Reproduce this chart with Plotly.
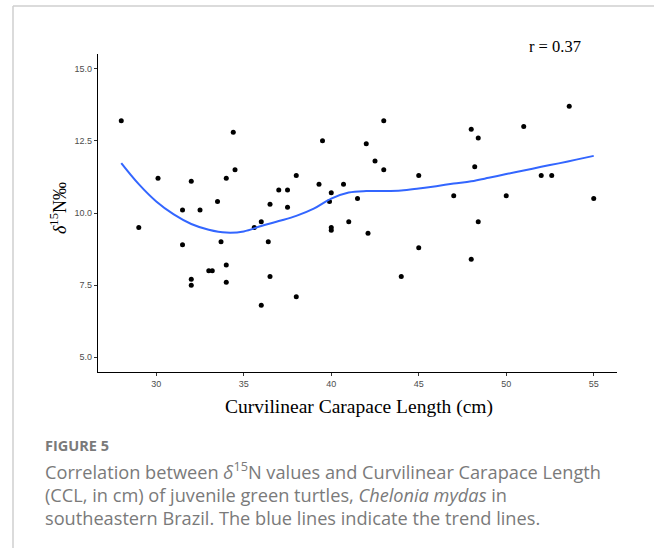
import plotly.graph_objects as go

# Data
ccl = [28, 29, 30.1, 31.5, 31.5, 32, 32, 32, 32.5, 33, 33.2, 33.5, 33.7, 34, 34, 34,
       34.4, 34.5, 35.6, 36, 36, 36.4, 36.5, 36.5, 37, 37.5, 37.5, 38, 38, 39.3, 39.5,
       39.9, 40, 40, 40, 40.7, 41, 41.5, 42, 42.1, 42.5, 43, 43, 44, 45, 45, 47, 48,
       48, 48.2, 48.4, 48.4, 50, 51, 52, 52.6, 53.6, 55]
d15n = [13.2, 9.5, 11.2, 10.1, 8.9, 11.1, 7.7, 7.5, 10.1, 8.0, 8.0, 10.4, 9.0, 11.2, 8.2, 7.6,
        12.8, 11.5, 9.5, 9.7, 6.8, 9.0, 10.3, 7.8, 10.8, 10.8, 10.2, 11.3, 7.1, 11.0, 12.5,
        10.4, 10.7, 9.5, 9.4, 11.0, 9.7, 10.5, 12.4, 9.3, 11.8, 13.2, 11.5, 7.8, 11.3, 8.8, 10.6, 12.9,
        8.4, 11.6, 12.6, 9.7, 10.6, 13.0, 11.3, 11.3, 13.7, 10.5]

trend_x = [28, 29, 30, 31, 32, 33, 34, 35, 36, 37, 38, 39, 40, 41, 42, 43, 44, 45, 46, 47,
           48, 49, 50, 51, 52, 53, 54, 55]
trend_y = [11.73, 11.0, 10.4, 9.95, 9.62, 9.42, 9.32, 9.36, 9.55, 9.72, 9.9, 10.15, 10.5, 10.71,
           10.76, 10.76, 10.78, 10.85, 10.93, 11.02, 11.1, 11.22, 11.35, 11.47, 11.6, 11.72, 11.85, 11.98]

x_ticks = [30, 35, 40, 45, 50, 55]
y_ticks = [5.0, 7.5, 10.0, 12.5, 15.0]
y_tick_labels = ["5.0", "7.5", "10.0", "12.5", "15.0"]

fig = go.Figure()
fig.add_trace(go.Scatter(x=ccl, y=d15n, mode="markers",
                         marker=dict(color="black", size=5), showlegend=False))
fig.add_trace(go.Scatter(x=trend_x, y=trend_y, mode="lines",
                         line=dict(color="#3366FF", width=2, shape="spline"), showlegend=False))

axis_common = dict(showgrid=False, zeroline=False, showline=True, linecolor="black",
                   linewidth=1.3, ticks="outside", ticklen=3, tickcolor="#333333",
                   tickfont=dict(family="Liberation Sans", size=9, color="#4d4d4d"))

fig.update_xaxes(range=[26.67, 56.33], tickvals=x_ticks, **axis_common)
fig.update_yaxes(range=[4.49, 15.51], tickvals=y_ticks, ticktext=y_tick_labels, **axis_common)

L, R, T, B = 98, 37, 54, 176
W, H = 654, 548
pw, ph = W - L - R, H - T - B

def px(x):
    return (x - L) / pw

def py(y):
    return (H - B - y) / ph

serif = "Liberation Serif"
cap_font = dict(family="Open Sans", size=18.2, color="#7a7a7a")

annotations = [
    dict(text="r = 0.37", x=px(555), y=py(46), font=dict(family=serif, size=16.5, color="black")),
    dict(text="<i>δ</i><sup>15</sup>N‰", x=px(58), y=py(208), textangle=-90,
         font=dict(family=serif, size=18, color="black")),
    dict(text="Curvilinear Carapace Length (cm)", x=px(359), y=py(407),
         font=dict(family=serif, size=19.5, color="black")),
    dict(text="<b>FIGURE 5</b>", x=px(43), y=py(445), xanchor="left",
         font=dict(family="Open Sans", size=14.5, color="#7a7a7a")),
    dict(text="Correlation between <i>δ</i><sup>15</sup>N values and Curvilinear Carapace Length",
         x=px(43), y=py(470), xanchor="left", font=cap_font),
    dict(text="(CCL, in cm) of juvenile green turtles, <i>Chelonia mydas</i> in",
         x=px(43), y=py(495), xanchor="left", font=cap_font),
    dict(text="southeastern Brazil. The blue lines indicate the trend lines.",
         x=px(43), y=py(518), xanchor="left", font=cap_font),
]
for a in annotations:
    a.setdefault("xanchor", "center")
    a.update(xref="paper", yref="paper", yanchor="middle", showarrow=False)

shapes = [
    dict(type="line", xref="paper", yref="paper", x0=px(13), x1=px(654), y0=py(6), y1=py(6),
         line=dict(color="#cfcfcf", width=1.5)),
    dict(type="line", xref="paper", yref="paper", x0=px(13), x1=px(13), y0=py(6), y1=py(548),
         line=dict(color="#cfcfcf", width=1.5)),
]

fig.update_layout(width=W, height=H, margin=dict(l=L, r=R, t=T, b=B),
                  paper_bgcolor="white", plot_bgcolor="white",
                  annotations=annotations, shapes=shapes)

fig.write_html("out.html")
